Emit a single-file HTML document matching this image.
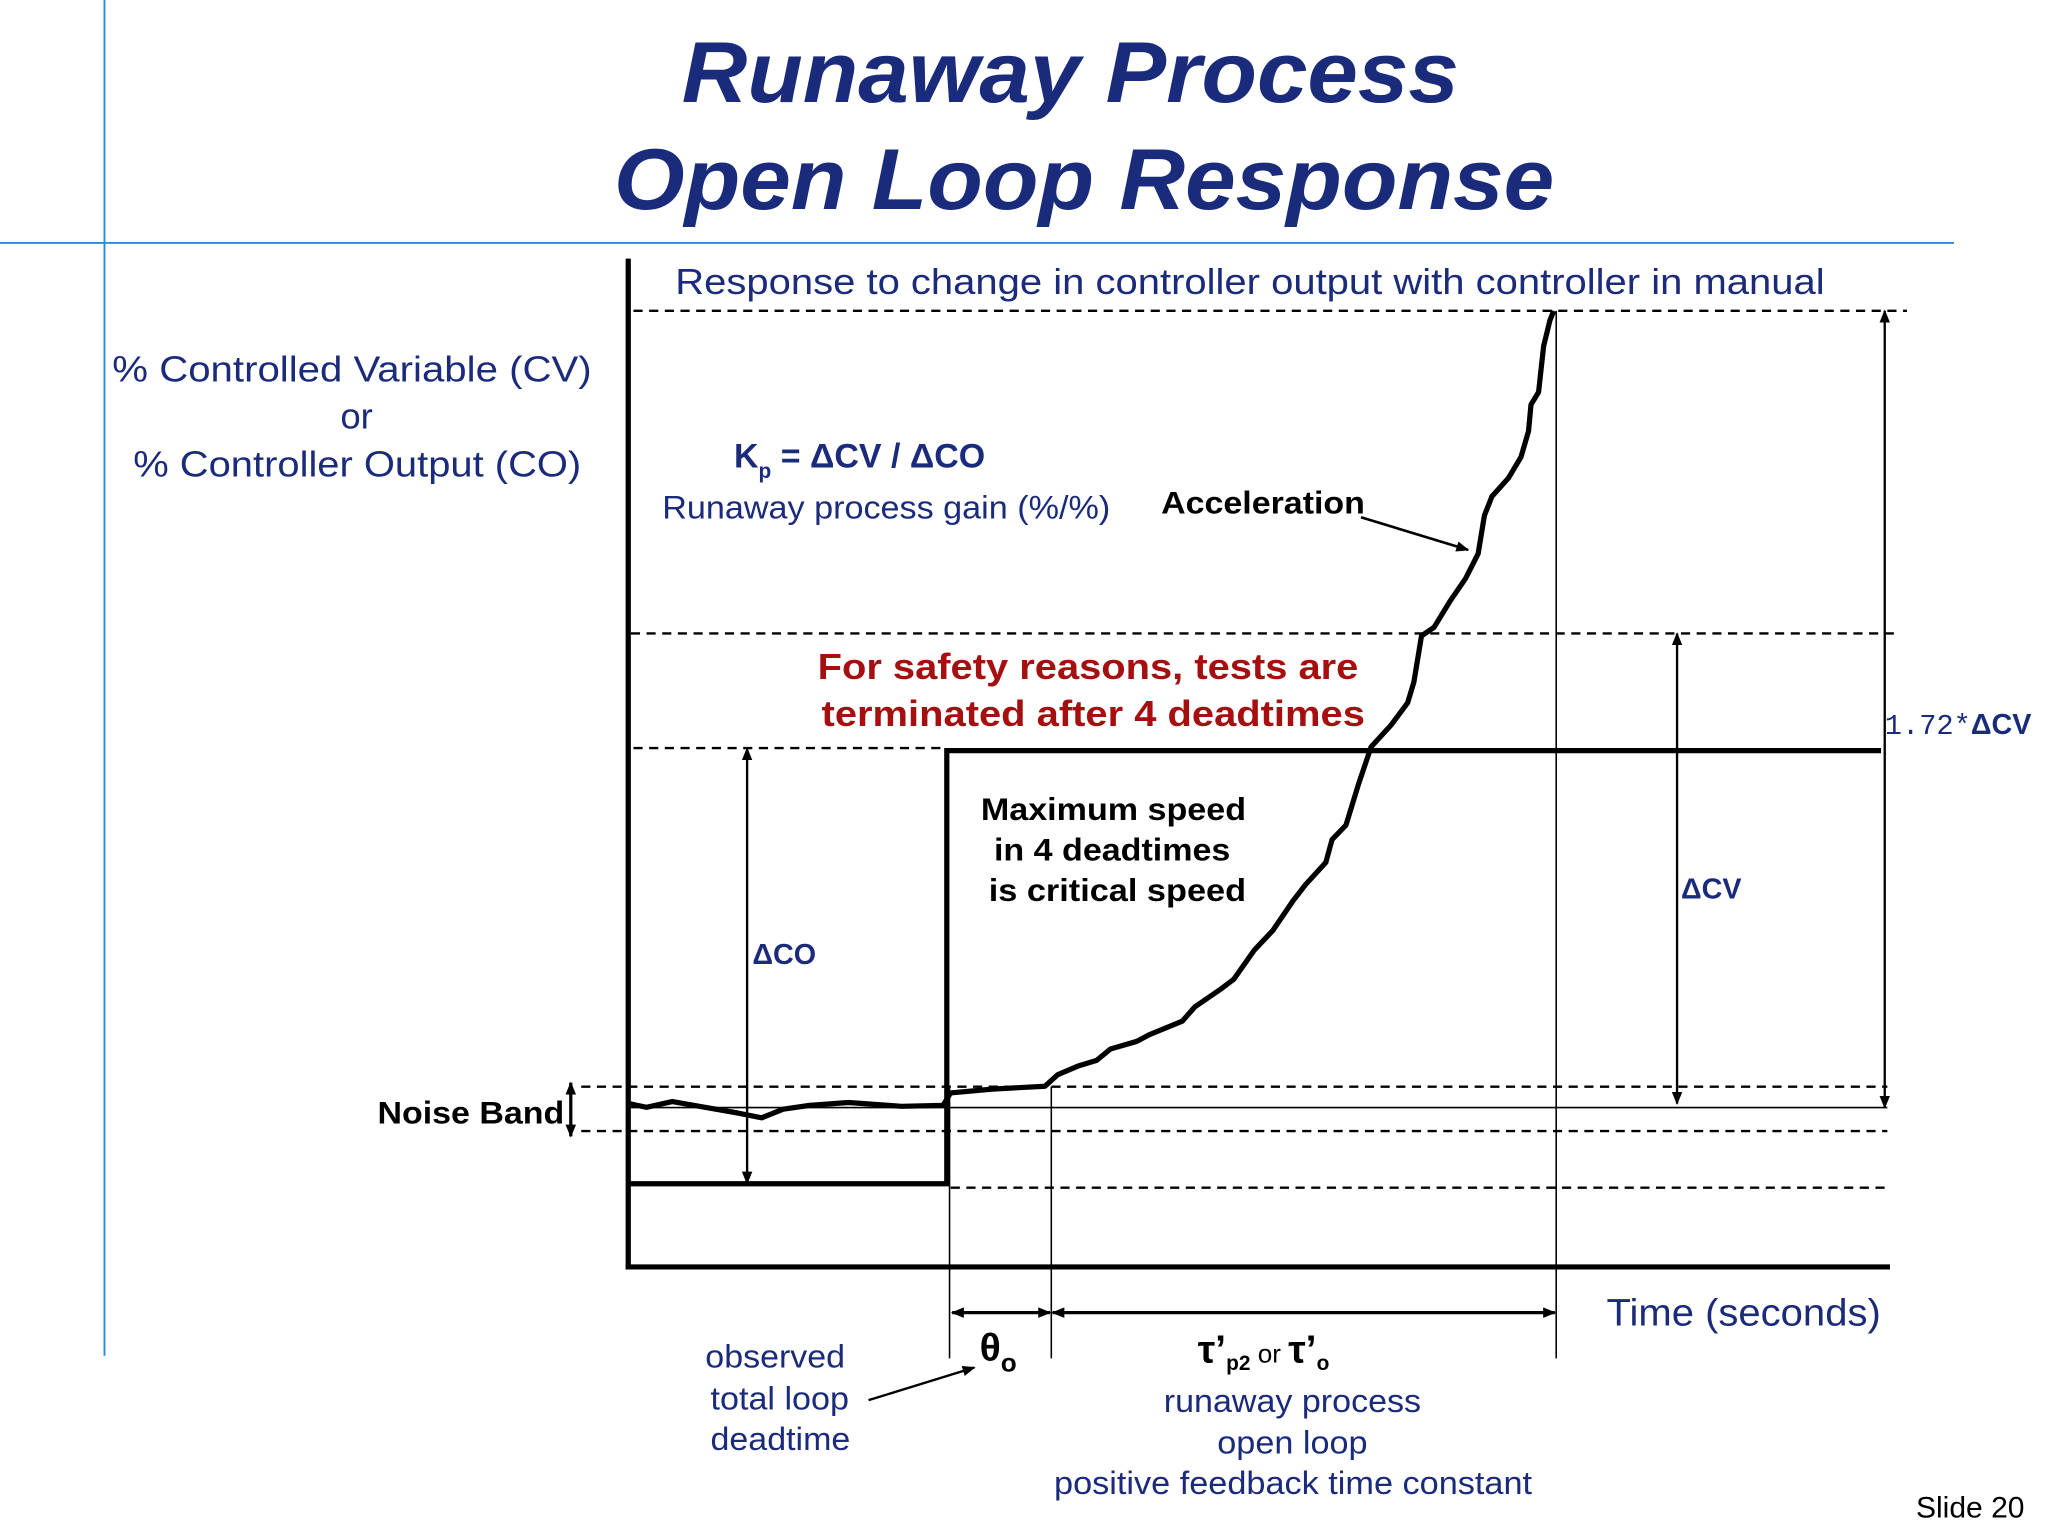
<!DOCTYPE html>
<html><head><meta charset="utf-8"><style>
html,body{margin:0;padding:0;background:#fff;}
svg{display:block;}
text{font-family:"Liberation Sans",sans-serif;}
</style></head><body>
<svg id="chart" width="2048" height="1536" viewBox="0 0 1568 1176" xmlns="http://www.w3.org/2000/svg">
<defs>
<marker id="ah" markerWidth="10" markerHeight="10" refX="9" refY="5" orient="auto-start-reverse" markerUnits="userSpaceOnUse"><path d="M0,1 L10,5 L0,9 Z" fill="#000"/></marker>
</defs>
<rect width="1568" height="1176" fill="#fff"/>
<line x1="80" y1="0" x2="80" y2="1038" stroke="#2a8fd4" stroke-width="1.5"/>
<line x1="0" y1="186" x2="1496" y2="186" stroke="#2a8fd4" stroke-width="1.5"/>
<text x="522" y="78" textLength="595" lengthAdjust="spacingAndGlyphs" font-size="66" font-weight="bold" font-style="italic" fill="#1b2b7c">Runaway Process</text>
<text x="470" y="160" textLength="720" lengthAdjust="spacingAndGlyphs" font-size="66" font-weight="bold" font-style="italic" fill="#1b2b7c">Open Loop Response</text>
<text x="517" y="225" textLength="880" lengthAdjust="spacingAndGlyphs" font-size="28" fill="#1b2b7c">Response to change in controller output with controller in manual</text>
<g font-size="28" fill="#1b2b7c">
<text x="86" y="292" textLength="367" lengthAdjust="spacingAndGlyphs">% Controlled Variable (CV)</text>
<text x="273" y="328" text-anchor="middle">or</text>
<text x="102" y="365" textLength="343" lengthAdjust="spacingAndGlyphs">% Controller Output (CO)</text>
</g>
<g fill="#1b2b7c">
<text x="562" y="358" font-size="26" font-weight="bold">K<tspan font-size="16" dy="8">p</tspan><tspan dy="-8"> = ΔCV / ΔCO</tspan></text>
<text x="507" y="397" font-size="25" textLength="343" lengthAdjust="spacingAndGlyphs">Runaway process gain (%/%)</text>
</g>
<text x="889" y="393" font-size="24" font-weight="bold" textLength="156" lengthAdjust="spacingAndGlyphs">Acceleration</text>
<g fill="#a50f0f" font-size="28" font-weight="bold">
<text x="626" y="520" textLength="414" lengthAdjust="spacingAndGlyphs">For safety reasons, tests are</text>
<text x="629" y="556" textLength="416" lengthAdjust="spacingAndGlyphs">terminated after 4 deadtimes</text>
</g>
<g font-size="24" font-weight="bold">
<text x="751" y="628" textLength="203" lengthAdjust="spacingAndGlyphs">Maximum speed</text>
<text x="761" y="659" textLength="181" lengthAdjust="spacingAndGlyphs">in 4 deadtimes</text>
<text x="757" y="690" textLength="197" lengthAdjust="spacingAndGlyphs">is critical speed</text>
</g>
<text x="576" y="738" font-size="22" font-weight="bold" fill="#1b2b7c">ΔCO</text>
<text x="1287" y="688" font-size="22" font-weight="bold" fill="#1b2b7c">ΔCV</text>
<text x="1443" y="562" font-size="22" fill="#1b2b7c"><tspan font-family="Liberation Mono, monospace">1.72*</tspan><tspan font-weight="bold">ΔCV</tspan></text>
<text x="289" y="860" font-size="24" font-weight="bold" textLength="143" lengthAdjust="spacingAndGlyphs">Noise Band</text>
<text x="1230" y="1015" font-size="29" fill="#1b2b7c" textLength="210" lengthAdjust="spacingAndGlyphs">Time (seconds)</text>
<g font-size="25" fill="#1b2b7c">
<text x="540" y="1047" textLength="107" lengthAdjust="spacingAndGlyphs">observed</text>
<text x="544" y="1079" textLength="106" lengthAdjust="spacingAndGlyphs">total loop</text>
<text x="544" y="1110" textLength="107" lengthAdjust="spacingAndGlyphs">deadtime</text>
</g>
<text x="750" y="1042" font-size="30" font-weight="bold" font-family="Liberation Serif, serif">θ<tspan font-size="20" dy="8">o</tspan></text>
<text x="917" y="1043" font-size="30" font-weight="bold" font-family="Liberation Serif, serif">τ’<tspan font-size="16" dy="6">p2</tspan><tspan dy="-6" font-size="20" font-weight="normal" font-family="Liberation Sans, sans-serif"> or </tspan><tspan>τ’</tspan><tspan font-size="16" dy="6">o</tspan></text>
<g font-size="25" fill="#1b2b7c">
<text x="891" y="1081" textLength="197" lengthAdjust="spacingAndGlyphs">runaway process</text>
<text x="932" y="1113" textLength="115" lengthAdjust="spacingAndGlyphs">open loop</text>
<text x="807" y="1144" textLength="366" lengthAdjust="spacingAndGlyphs">positive feedback time constant</text>
</g>
<text x="1550" y="1162" text-anchor="end" font-size="23">Slide 20</text>
<g id="marks"></g>
</svg>
<script>
const cvTime = [0,1.45,3.5,6.1,8.7,10.6,12.3,14.4,17.5,21.7,25.0,25.6,28.9,33.1,34.1,35.7,37.2,38.3,40.4,41.4,44.0,45.0,47.1,48.1,49.7,51.2,52.8,53.8,55.4,55.9,57.0,58.0,59.0,60.6,61.9,62.4,63.0,64.0,65.3,66.5,67.5,68.0,68.6,69.9,70.9,71.5,71.7,72.3,72.7,73.2,73.5];
const cvValue = [17.1,16.7,17.3,16.7,16.1,15.6,16.5,16.9,17.2,16.8,16.9,18.2,18.6,18.9,20.1,21.0,21.6,22.8,23.6,24.3,25.7,27.2,29.1,30.1,33.1,35.2,38.3,40.0,42.3,44.7,46.2,50.5,54.4,56.7,59.0,61.2,66.0,66.9,69.7,72.0,74.6,78.6,80.6,82.5,84.7,87.4,90.2,91.5,96.3,99.0,100];
const coTime = [0,25.3,25.3,99.5];
const coValue = [8.7,8.7,54.0,54.0];
const deadtimeEnd = 33.6;
const tauEnd = 73.7;

const NS='http://www.w3.org/2000/svg';
const xS = t => 481 + t*9.64;
const yS = v => 970 - v*7.32;
const g = document.getElementById('marks');
function mk(tag, attrs){const e=document.createElementNS(NS,tag);for(const k in attrs)e.setAttribute(k,attrs[k]);g.appendChild(e);return e;}
function line(x1,y1,x2,y2,w,dash){return mk('line',{x1,y1,x2,y2,stroke:'#000','stroke-width':w,'stroke-dasharray':dash||'none'});}

let e;
e=line(485,yS(100),1460,yS(100),1.8,'7,5');


e=line(483,485,1455,485,1.8,'7,5');


e=line(485,yS(coValue[2])-2,xS(coTime[1]),yS(coValue[2])-2,1.8,'7,5');


e=line(445,832,1445,832,1.8,'7,5');


e=line(445,866,1445,866,1.8,'7,5');


e=line(xS(coTime[1])+3,yS(coValue[0])+3,1445,yS(coValue[0])+3,1.8,'7,5');


e=line(481,848,1445,848,1.2);


e=line(727,832,727,1040,1.2);


e=line(xS(deadtimeEnd),832,xS(deadtimeEnd),1040,1.2);


e=line(xS(tauEnd),yS(100),xS(tauEnd),1040,1.2);


e=line(481,198,481,972,4);


e=line(479,970,1447,970,4);



e=mk('polyline',{points:coTime.map((t,i)=>xS(t)+','+yS(coValue[i])).join(' '),fill:'none',stroke:'#000','stroke-width':4});


e=mk('polyline',{points:cvTime.map((t,i)=>xS(t)+','+yS(cvValue[i])).join(' '),fill:'none',stroke:'#000','stroke-width':4,'stroke-linejoin':'round'});



function arrow(x1,y1,x2,y2,both,w){return mk('line',{x1,y1,x2,y2,stroke:'#000','stroke-width':w||1.8,'marker-end':'url(#ah)','marker-start':both?'url(#ah)':'none'});}
e=arrow(572,573,572,906,true);


e=arrow(1284,485,1284,845,true);


e=arrow(1443,238,1443,848,true);


e=arrow(437,829,437,870,true,2.5);


e=arrow(729,1005,xS(deadtimeEnd)-1,1005,true,2.5);


e=arrow(xS(deadtimeEnd)+1,1005,xS(tauEnd)-1,1005,true,2.5);


e=arrow(1042,396,1124,421,false,2);


e=arrow(665,1072,746,1047,false,1.8);


</script>
</body></html>
